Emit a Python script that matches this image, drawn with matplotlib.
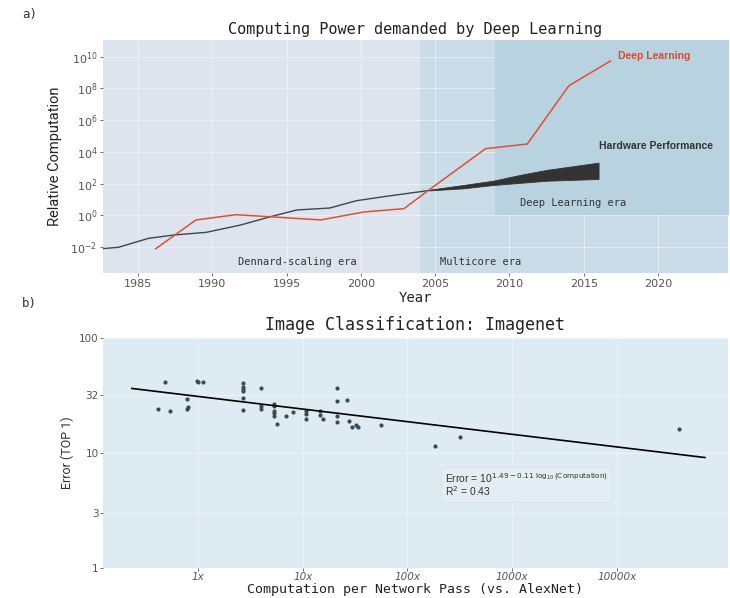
import matplotlib
matplotlib.use('Agg')
import matplotlib.pyplot as plt
import numpy as np

# ---- panel a) data (years, log10 relative computation) ----
hw_years = [1982.6, 1983.7, 1985.7, 1987.4, 1989.6, 1991.9, 1993.9, 1995.7, 1997.9, 1999.7, 2001.5, 2004.0, 2004.6]
hw_log = [-2.09, -2.0, -1.44, -1.23, -1.06, -0.60, -0.08, 0.35, 0.47, 0.93, 1.18, 1.50, 1.58]

band_years = [2004.6, 2006.9, 2008.9, 2010.9, 2012.5, 2016.0]
band_low = [1.58, 1.71, 1.92, 2.07, 2.19, 2.30]
band_high = [1.62, 1.92, 2.19, 2.59, 2.87, 3.33]

dl_years = [1986.2, 1988.9, 1991.6, 1993.9, 1997.3, 2000.2, 2002.9, 2004.5, 2008.4, 2011.2, 2014.0, 2016.8]
dl_log = [-2.09, -0.28, 0.05, -0.08, -0.28, 0.22, 0.43, 1.55, 4.21, 4.50, 8.17, 9.73]

year_ticks = [1985, 1990, 1995, 2000, 2005, 2010, 2015, 2020]
pow_ticks = [-2, 0, 2, 4, 6, 8, 10]

# ---- panel b) data ----
comp = [0.487, 0.412, 0.544, 0.785, 0.780, 0.808, 0.972, 0.993, 1.13,
        2.69, 2.69, 2.69, 2.69, 2.69, 2.69,
        4.02, 4.02, 4.02,
        5.35, 5.35, 5.35, 5.35, 5.35, 5.64, 6.92, 8.02,
        10.7, 10.7, 10.7, 14.7, 14.7, 15.7,
        21.4, 21.4, 26.6, 21.4, 21.4, 27.8, 29.7, 32.0, 33.7,
        55.8, 182, 317, 39400]
err = [41.5, 23.9, 23.2, 29.4, 24.2, 25.2, 42.1, 41.5, 41.5,
       40.7, 37.4, 35.9, 34.4, 30.1, 23.6,
       36.9, 25.4, 23.9,
       26.8, 25.4, 23.0, 22.3, 20.8, 17.7, 21.0, 22.6,
       23.2, 21.7, 19.8, 23.0, 21.4, 19.8,
       36.6, 28.4, 28.6, 20.8, 18.5, 18.7, 16.9, 17.3, 16.9,
       17.4, 11.5, 13.6, 16.0]
fit_intercept = 1.49
fit_slope = 0.11
fit_range = [0.234, 69000]
err_ticks = [1, 3, 10, 32, 100]
comp_ticks = [1, 10, 100, 1000, 10000]

mono = 'DejaVu Sans Mono'
narrow = ['Roboto', 'DejaVu Sans']
tick_col = '#555555'

fig = plt.figure(figsize=(7.3, 5.98), dpi=100)

# ================= panel a =================
ax1 = fig.add_axes([0.141, 0.5435, 0.856, 0.3896])
ax1.set_facecolor('#dde4ed')
ax1.axvspan(2004.0, 2030, color='#c9dce7', zorder=0.5, lw=0)
ax1.fill_between([2009.0, 2030], 1.0, 1e12, color='#b9d2df', zorder=0.6, lw=0)

ax1.plot(hw_years, 10.0 ** np.array(hw_log), color='#3c464d', lw=1.0, zorder=3)
ax1.fill_between(band_years, 10.0 ** np.array(band_low), 10.0 ** np.array(band_high),
                 color='#333333', lw=0.6, edgecolor='#333333', zorder=3)
ax1.plot(dl_years, 10.0 ** np.array(dl_log), color='#dc5035', lw=1.1, zorder=4)

ax1.set_yscale('log')
ax1.set_xlim(1982.64, 2024.7)
ax1.set_ylim(10 ** -3.62, 10 ** 11.05)
ax1.set_xticks(year_ticks)
ax1.set_yticks([10.0 ** p for p in pow_ticks])
ax1.set_yticklabels([r'$10^{%d}$' % p for p in pow_ticks])
ax1.minorticks_off()
ax1.grid(True, color='white', lw=0.6, alpha=0.5, zorder=1)
ax1.set_axisbelow(True)
for s in ax1.spines.values():
    s.set_visible(False)
ax1.tick_params(labelsize=8, colors=tick_col, length=2.5, width=0.6, pad=1.5)

ax1.text(2017.3, 10 ** 10.05, 'Deep Learning', color='#dc4a30', fontsize=7.5,
         fontweight='bold', family='Liberation Sans', va='center', zorder=5)
ax1.text(2016.0, 10 ** 4.37, 'Hardware Performance', color='#333333', fontsize=7.5,
         fontweight='bold', family='Liberation Sans', va='center', zorder=5)
ax1.text(2010.7, 10 ** 0.79, 'Deep Learning era', color='#333333', fontsize=7.5,
         family=mono, va='center', zorder=5)
ax1.text(2005.3, 10 ** -2.93, 'Multicore era', color='#333333', fontsize=7.5,
         family=mono, va='center', zorder=5)
ax1.text(1991.7, 10 ** -2.93, 'Dennard-scaling era', color='#333333', fontsize=7.5,
         family=mono, va='center', zorder=5)

ax1.set_title('Computing Power demanded by Deep Learning', family=mono,
              fontsize=11, color='#222222', pad=4)
ax1.set_xlabel('Year', family=mono, fontsize=10, color='#222222', labelpad=2)
ax1.set_ylabel('Relative Computation', family=narrow, fontsize=10.5,
               color='#222222', labelpad=6)

# ================= panel b =================
ax2 = fig.add_axes([0.141, 0.051, 0.856, 0.384])
ax2.set_facecolor('#deebf3')
ax2.scatter(comp, err, s=9, color='#3d4a55', zorder=3, lw=0)
fx = np.array(fit_range)
ax2.plot(fx, 10 ** (fit_intercept - fit_slope * np.log10(fx)), color='black',
         lw=1.2, zorder=4)

ax2.set_xscale('log')
ax2.set_yscale('log')
ax2.set_xlim(0.124, 114000)
ax2.set_ylim(1, 100)
ax2.set_xticks(comp_ticks)
ax2.set_xticklabels(['%dx' % v for v in comp_ticks], style='italic')
ax2.set_yticks(err_ticks)
ax2.set_yticklabels([str(v) for v in err_ticks])
ax2.minorticks_off()
ax2.grid(True, color='white', lw=0.6, alpha=0.5, zorder=1)
ax2.set_axisbelow(True)
for s in ax2.spines.values():
    s.set_visible(False)
ax2.tick_params(labelsize=7.5, colors=tick_col, length=2, width=0.6, pad=1)

ax2.text(228, 5.3,
         'Error = 10$^{1.49 - 0.11\\ \\log_{10}(\\mathrm{Computation})}$\nR$^2$ = 0.43',
         fontsize=7.5, color='#333333', family='Liberation Sans', va='center',
         linespacing=0.95,
         bbox=dict(boxstyle='square,pad=0.4', facecolor='#e2edf4',
                   edgecolor='#d6e2ea', lw=0.6))

ax2.set_title('Image Classification: Imagenet', family=mono, fontsize=12,
              color='#222222', pad=6)
ax2.set_xlabel('Computation per Network Pass (vs. AlexNet)', family=mono,
               fontsize=9.5, color='#222222', labelpad=1)
ax2.set_ylabel('Error (TOP 1)', family=narrow, fontsize=9, color='#333333',
               labelpad=4)

fig.text(0.03, 0.975, 'a)', family=mono, fontsize=9, color='#333333', va='center')
fig.text(0.03, 0.493, 'b)', family=mono, fontsize=9, color='#333333', va='center')

fig.savefig('out.png', dpi=100)
